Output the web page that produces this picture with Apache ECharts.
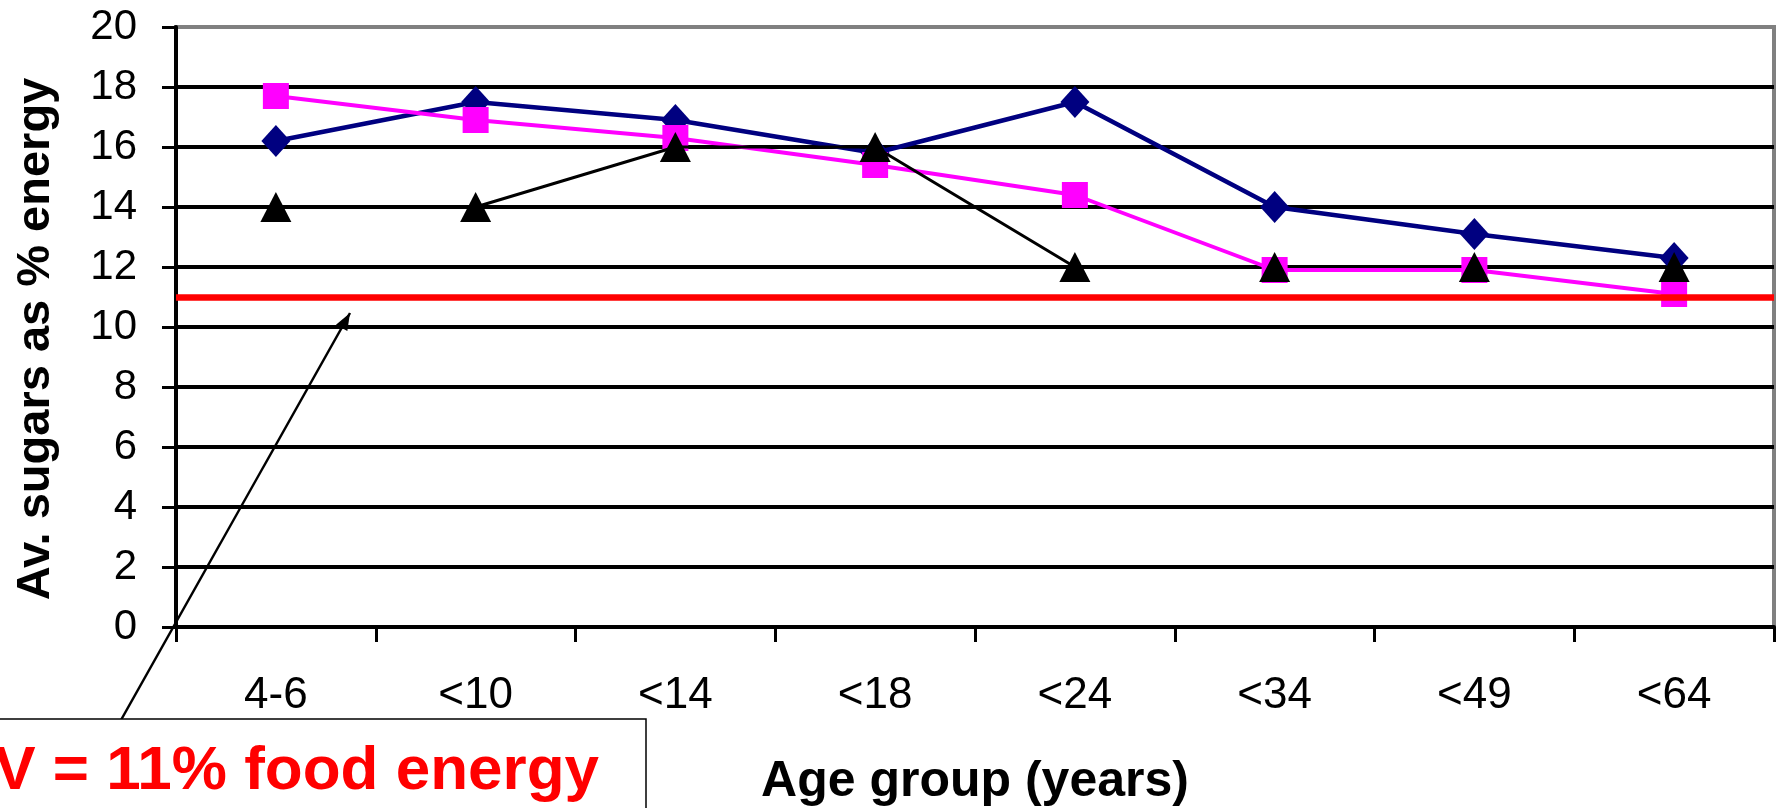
<!DOCTYPE html>
<html>
<head>
<meta charset="utf-8">
<script src="https://cdn.jsdelivr.net/npm/echarts@6/dist/echarts.min.js"></script>
<style>
  html, body { margin: 0; padding: 0; background: #ffffff; }
  #chart { width: 1784px; height: 808px; }
</style>
</head>
<body>
<div id="chart"></div>
<script>
// Age groups along the x axis
const ageGroups = ['4-6', '<10', '<14', '<18', '<24', '<34', '<49', '<64'];

// Average sugars as % of energy, one array per survey series
const diamondValues = [16.2, 17.5, 16.9, 15.8, 17.5, 14.0, 13.1, 12.3];
const squareValues = [17.7, 16.9, 16.3, 15.4, 14.4, 11.9, 11.9, 11.1];
const triangleValues = [14, 14, 16, 16, 12, 12, 12, 12];
// which triangle points are joined by the thin black line
const triangleJoined = [false, true, true, true, true, false, false, false];

// Dietary reference value
const drvLevel = 11;
const drvLabel = 'DRV = 11% food energy';

// Value axis ticks
const yMin = 0, yMax = 20, yStep = 2;

const FONT = '"Liberation Sans", Arial, Helvetica, sans-serif';

const chart = echarts.init(document.getElementById('chart'), null, { renderer: 'canvas' });

const joinedLine = triangleValues.map((v, i) => (triangleJoined[i] ? v : null));

// split line colours: black rules, grey top rule
const splitColors = [];
for (let v = yMin; v <= yMax; v += yStep) splitColors.push(v === yMax ? '#808080' : '#000000');

// arrow from the annotation box up to the reference line
const arrowFrom = [121, 720], arrowTo = [350, 313];
function arrowHead(from, to, len, half) {
  const dx = to[0] - from[0], dy = to[1] - from[1];
  const L = Math.hypot(dx, dy), ux = dx / L, uy = dy / L;
  const bx = to[0] - ux * len, by = to[1] - uy * len;
  return [to, [bx - uy * half, by + ux * half], [bx + uy * half, by - ux * half]];
}

const option = {
  animation: false,
  backgroundColor: '#ffffff',
  grid: {
    left: 176, right: 10, top: 27, bottom: 181,
    containLabel: false,
    outerBoundsMode: 'none',
    show: true, borderColor: '#808080', borderWidth: 4, backgroundColor: 'transparent'
  },
  xAxis: {
    type: 'category',
    data: ageGroups,
    boundaryGap: true,
    name: 'Age group (years)',
    nameLocation: 'middle',
    nameGap: 130,
    nameTextStyle: { fontFamily: FONT, fontWeight: 'bold', fontSize: 50, color: '#000' },
    axisLine: { show: true, lineStyle: { color: '#000', width: 4 } },
    axisTick: { show: true, alignWithLabel: false, length: 15, lineStyle: { color: '#000', width: 3 } },
    axisLabel: { fontFamily: FONT, fontSize: 44, color: '#000', margin: 47 },
    splitLine: { show: false }
  },
  yAxis: {
    type: 'value',
    min: yMin, max: yMax, interval: yStep,
    name: 'Av. sugars as % energy',
    nameLocation: 'middle',
    nameRotate: 90,
    nameGap: 116,
    nameTextStyle: { fontFamily: FONT, fontWeight: 'bold', fontSize: 47, color: '#000', padding: [0, 24, 0, 0] },
    axisLine: { show: true, lineStyle: { color: '#000', width: 4 } },
    axisTick: { show: true, inside: false, length: 14, lineStyle: { color: '#000', width: 3 } },
    axisLabel: { fontFamily: FONT, fontSize: 42, color: '#000', margin: 39 },
    splitLine: { show: true, lineStyle: { color: splitColors, width: 4 } }
  },
  series: [
    {
      type: 'line',
      data: diamondValues,
      z: 2,
      symbol: 'diamond',
      symbolSize: [29, 32],
      showSymbol: true,
      itemStyle: { color: '#000080', opacity: 1 },
      lineStyle: { color: '#000080', width: 4.5 },
      emphasis: { disabled: true }
    },
    {
      type: 'line',
      data: squareValues,
      z: 3,
      symbol: 'rect',
      symbolSize: [26, 26],
      showSymbol: true,
      itemStyle: { color: '#FF00FF', opacity: 1 },
      lineStyle: { color: '#FF00FF', width: 4 },
      emphasis: { disabled: true }
    },
    {
      type: 'line',
      data: joinedLine,
      z: 4,
      connectNulls: false,
      symbol: 'none',
      lineStyle: { color: '#000000', width: 3 },
      emphasis: { disabled: true }
    },
    {
      type: 'scatter',
      data: triangleValues,
      z: 5,
      symbol: 'triangle',
      symbolSize: [31, 30],
      itemStyle: { color: '#000000', opacity: 1 },
      emphasis: { disabled: true },
      markLine: {
        silent: true,
        symbol: 'none',
        label: { show: false },
        lineStyle: { color: '#FF0000', width: 6.5, type: 'solid', opacity: 1 },
        data: [{ yAxis: drvLevel }]
      }
    }
  ],
  graphic: [
    {
      type: 'line',
      z: 50,
      shape: { x1: arrowFrom[0], y1: arrowFrom[1], x2: arrowTo[0], y2: arrowTo[1] },
      style: { stroke: '#000', lineWidth: 2.5 }
    },
    {
      type: 'polygon',
      z: 50,
      shape: { points: arrowHead(arrowFrom, arrowTo, 17, 6.5) },
      style: { fill: '#000' }
    },
    {
      type: 'rect',
      z: 60,
      shape: { x: -10, y: 719, width: 656, height: 120 },
      style: { fill: '#ffffff', stroke: '#000', lineWidth: 1.5 }
    },
    {
      type: 'text',
      z: 61,
      x: 599, y: 772,
      style: {
        text: drvLabel,
        fill: '#FF0000',
        font: 'bold 62px ' + FONT,
        textAlign: 'right',
        textVerticalAlign: 'middle'
      }
    }
  ]
};

chart.setOption(option);
</script>
</body>
</html>
